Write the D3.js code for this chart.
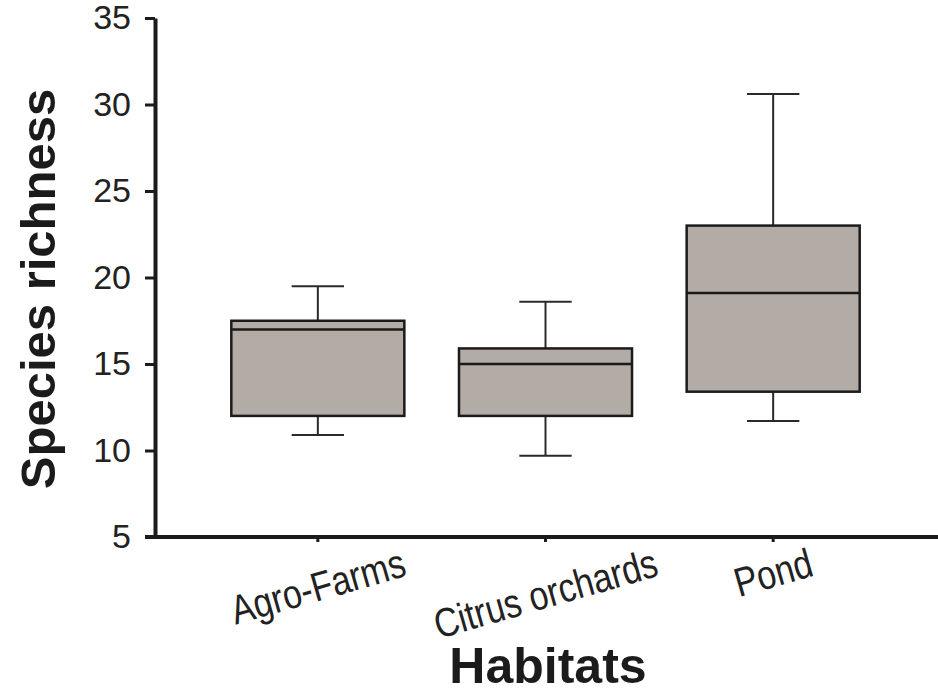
<!DOCTYPE html>
<html>
<head>
<meta charset="utf-8">
<script src="https://cdn.jsdelivr.net/npm/d3@7"></script>
<style>
  html, body { margin: 0; padding: 0; background: #fff; }
  svg { display: block; font-family: "Liberation Sans", Arial, sans-serif; }
</style>
</head>
<body>
<svg id="chart" width="938" height="693"></svg>
<script>
// ── Data ───────────────────────────────────────────────────────────────
const habitats = ["Agro-Farms", "Citrus orchards", "Pond"];
const whiskerLow  = [10.9, 9.7, 11.7];
const quartile1   = [12.0, 12.0, 13.4];
const medians     = [17.0, 15.0, 19.1];
const quartile3   = [17.5, 15.9, 23.0];
const whiskerHigh = [19.5, 18.6, 30.6];
const yTicks = [5, 10, 15, 20, 25, 30, 35];

const boxes = habitats.map((h, i) => ({
  name: h, lo: whiskerLow[i], q1: quartile1[i], med: medians[i], q3: quartile3[i], hi: whiskerHigh[i]
}));

// ── Layout ─────────────────────────────────────────────────────────────
const svg = d3.select("#chart");
const axisX = 155, axisY = 537, rightEdge = 938;

const y = d3.scaleLinear().domain([5, 35]).range([axisY, 18]);
const x = d3.scaleBand().domain(habitats).range([204, 887]).padding(0);
const boxW = x.bandwidth() * 0.76;
const capW = x.bandwidth() * 0.23;
const cx = d => x(d.name) + x.bandwidth() / 2;

const INK = "#1b1b1b";

// ── Boxes ──────────────────────────────────────────────────────────────
const g = svg.append("g");
const box = g.selectAll("g.box").data(boxes).enter().append("g").attr("class", "box");

// whiskers
box.append("line")
  .attr("x1", cx).attr("x2", cx)
  .attr("y1", d => y(d.q3)).attr("y2", d => y(d.hi))
  .attr("stroke", "#2a2a2a").attr("stroke-width", 2);
box.append("line")
  .attr("x1", cx).attr("x2", cx)
  .attr("y1", d => y(d.q1)).attr("y2", d => y(d.lo))
  .attr("stroke", "#2a2a2a").attr("stroke-width", 2);
box.append("line")
  .attr("x1", d => cx(d) - capW / 2).attr("x2", d => cx(d) + capW / 2)
  .attr("y1", d => y(d.hi)).attr("y2", d => y(d.hi))
  .attr("stroke", "#2a2a2a").attr("stroke-width", 2);
box.append("line")
  .attr("x1", d => cx(d) - capW / 2).attr("x2", d => cx(d) + capW / 2)
  .attr("y1", d => y(d.lo)).attr("y2", d => y(d.lo))
  .attr("stroke", "#2a2a2a").attr("stroke-width", 2);

box.append("rect")
  .attr("x", d => cx(d) - boxW / 2)
  .attr("width", boxW)
  .attr("y", d => y(d.q3))
  .attr("height", d => y(d.q1) - y(d.q3))
  .attr("fill", "#b3aba6")
  .attr("stroke", INK).attr("stroke-width", 2.5);

box.append("line")
  .attr("x1", d => cx(d) - boxW / 2).attr("x2", d => cx(d) + boxW / 2)
  .attr("y1", d => y(d.med)).attr("y2", d => y(d.med))
  .attr("stroke", INK).attr("stroke-width", 2.5);

// ── Axes ───────────────────────────────────────────────────────────────
const yAxis = svg.append("g")
  .attr("transform", `translate(${axisX},0)`)
  .call(d3.axisLeft(y).tickValues(yTicks).tickSize(10).tickSizeOuter(0).tickPadding(14));
yAxis.select(".domain").attr("stroke", INK).attr("stroke-width", 4);
yAxis.selectAll(".tick line").attr("stroke", INK).attr("stroke-width", 3);
yAxis.selectAll(".tick text")
  .attr("fill", "#222").style("font-size", "34px");

const xAxis = svg.append("g")
  .attr("transform", `translate(0,${axisY})`)
  .call(d3.axisBottom(x).tickSize(5).tickFormat(""));
xAxis.select(".domain").remove();
xAxis.selectAll(".tick line").attr("stroke", INK).attr("stroke-width", 3);

svg.append("line")
  .attr("x1", 145).attr("x2", rightEdge)
  .attr("y1", axisY).attr("y2", axisY)
  .attr("stroke", INK).attr("stroke-width", 4);

// category labels, rotated and a little tall; tops of the rotated labels line up
const angle = 16, labelTop = 545, fs = 34, stretch = 1.2;
const sinA = Math.sin(angle * Math.PI / 180), cosA = Math.cos(angle * Math.PI / 180);
svg.append("g").selectAll("text").data(habitats).enter().append("text")
  .text(d => d)
  .attr("text-anchor", "middle")
  .attr("dy", "0.35em")
  .attr("fill", "#222")
  .style("font-size", fs + "px")
  .each(function (d) {
    const L = this.getComputedTextLength();
    const cy = labelTop + (L / 2) * sinA + (fs * 0.85 * stretch / 2) * cosA;
    d3.select(this).attr("transform",
      `translate(${x(d) + x.bandwidth() / 2},${cy}) rotate(${-angle}) scale(1,${stretch})`);
  });

// titles
svg.append("text")
  .attr("transform", "translate(38,289) rotate(-90)")
  .attr("text-anchor", "middle")
  .attr("dy", "0.35em")
  .attr("fill", "#1b1b1b")
  .style("font-size", "49px").style("font-weight", "bold")
  .text("Species richness");

svg.append("text")
  .attr("x", 548).attr("y", 683)
  .attr("text-anchor", "middle")
  .attr("fill", "#1b1b1b")
  .style("font-size", "50px").style("font-weight", "bold")
  .text("Habitats");
</script>
</body>
</html>
